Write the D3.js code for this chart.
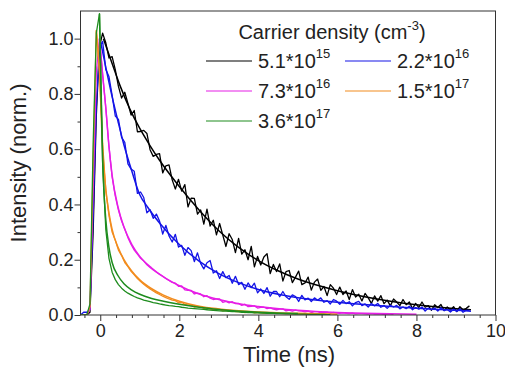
<!DOCTYPE html>
<html>
<head>
<meta charset="utf-8">
<script src="https://cdn.jsdelivr.net/npm/d3@7"></script>
<style>
  html, body { margin: 0; padding: 0; background: #fff; }
  svg { display: block; font-family: Arial, "Liberation Sans", sans-serif; }
</style>
</head>
<body>
<svg id="chart" width="505" height="370"></svg>
<script>
// time grid of the measured traces (ns): t = T0 + i*DT
const T0 = -0.5, DT = 0.08;

const blackData = [
  0.00, 0.00, 0.00, 0.01, 0.30, 0.72, 0.97, 1.02, 0.985, 0.93,
  0.935, 0.888, 0.827, 0.785, 0.806, 0.766, 0.723, 0.74, 0.663, 0.664,
  0.668, 0.657, 0.598, 0.574, 0.581, 0.584, 0.514, 0.54, 0.543, 0.489,
  0.456, 0.491, 0.448, 0.472, 0.391, 0.423, 0.422, 0.365, 0.38, 0.329,
  0.383, 0.322, 0.343, 0.29, 0.331, 0.289, 0.248, 0.294, 0.273, 0.226,
  0.277, 0.22, 0.236, 0.20, 0.248, 0.174, 0.212, 0.181, 0.21, 0.222,
  0.15, 0.183, 0.157, 0.185, 0.123, 0.157, 0.161, 0.117, 0.137, 0.159,
  0.11, 0.116, 0.137, 0.09, 0.119, 0.13, 0.089, 0.103, 0.07, 0.11,
  0.097, 0.074, 0.101, 0.074, 0.087, 0.056, 0.092, 0.065, 0.075, 0.051,
  0.078, 0.062, 0.042, 0.069, 0.05, 0.07, 0.041, 0.054, 0.033, 0.058,
  0.047, 0.034, 0.056, 0.037, 0.047, 0.023, 0.042, 0.027, 0.047, 0.028,
  0.034, 0.017, 0.037, 0.027, 0.038, 0.016, 0.029, 0.018, 0.03, 0.012,
  0.03, 0.018, 0.024, 0.033
];
const blueData = [
  0.00, 0.01, 0.01, 0.02, 0.35, 0.75, 0.97, 0.99, 0.888, 0.863,
  0.795, 0.72, 0.708, 0.643, 0.625, 0.547, 0.528, 0.52, 0.44, 0.445,
  0.425, 0.37, 0.381, 0.35, 0.365, 0.34, 0.293, 0.324, 0.286, 0.264,
  0.292, 0.246, 0.252, 0.216, 0.244, 0.233, 0.193, 0.225, 0.187, 0.167,
  0.189, 0.197, 0.152, 0.16, 0.132, 0.157, 0.135, 0.143, 0.115, 0.14,
  0.11, 0.118, 0.093, 0.116, 0.099, 0.115, 0.08, 0.094, 0.078, 0.099,
  0.068, 0.085, 0.085, 0.066, 0.085, 0.066, 0.057, 0.073, 0.067, 0.049,
  0.071, 0.055, 0.061, 0.049, 0.062, 0.053, 0.062, 0.046, 0.052, 0.04,
  0.056, 0.05, 0.039, 0.053, 0.041, 0.048, 0.033, 0.045, 0.049, 0.034,
  0.04, 0.029, 0.042, 0.033, 0.042, 0.028, 0.034, 0.024, 0.035, 0.029,
  0.035, 0.022, 0.029, 0.023, 0.032, 0.019, 0.027, 0.021, 0.029, 0.014,
  0.025, 0.019, 0.025, 0.014, 0.026, 0.016, 0.02, 0.011, 0.021, 0.013,
  0.022, 0.01, 0.017, 0.017
];
const pinkData = [
  0.00, 0.00, 0.00, 0.02, 0.45, 0.88, 1.00, 0.87, 0.75, 0.61,
  0.50, 0.43, 0.38, 0.34, 0.31, 0.28, 0.255, 0.235, 0.22, 0.205,
  0.195, 0.182, 0.172, 0.163, 0.155, 0.147, 0.14, 0.132, 0.125, 0.118,
  0.115, 0.104, 0.105, 0.091, 0.089, 0.089, 0.076, 0.079, 0.076, 0.066,
  0.07, 0.061, 0.056, 0.058, 0.058, 0.046, 0.049, 0.044, 0.048, 0.041,
  0.042, 0.035, 0.039, 0.03, 0.031, 0.033, 0.025, 0.028, 0.028, 0.023,
  0.026, 0.021, 0.019, 0.021, 0.022, 0.015, 0.018, 0.014, 0.018, 0.015,
  0.014, 0.011, 0.014, 0.009, 0.012, 0.012, 0.008, 0.01, 0.01, 0.006,
  0.009, 0.007, 0.006, 0.008, 0.006, 0.005, 0.007, 0.004, 0.005, 0.005,
  0.004, 0.003, 0.005, 0.003, 0.004, 0.003, 0.002, 0.003, 0.003, 0.002
];
const orangeData = [
  0.00, 0.00, 0.00, 0.03, 0.55, 1.03, 0.88, 0.62, 0.45, 0.36,
  0.30, 0.27, 0.235, 0.215, 0.19, 0.175, 0.158, 0.145, 0.132, 0.121,
  0.111, 0.102, 0.094, 0.087, 0.08, 0.074, 0.068, 0.063, 0.058, 0.054,
  0.052, 0.044, 0.046, 0.038, 0.036, 0.036, 0.029, 0.031, 0.03, 0.024,
  0.026, 0.021, 0.019, 0.022, 0.02, 0.015, 0.017, 0.014, 0.016, 0.012,
  0.013, 0.011, 0.009, 0.011, 0.012, 0.008, 0.009, 0.009, 0.006, 0.007,
  0.007, 0.006, 0.006, 0.006, 0.005, 0.005, 0.005, 0.004, 0.004, 0.004,
  0.003, 0.003, 0.003, 0.003, 0.002, 0.002, 0.002, 0.002, 0.002, 0.002
];
const greenData = [
  0.00, 0.00, 0.00, 0.04, 0.62, 1.02, 1.09, 0.55, 0.31, 0.205,
  0.155, 0.128, 0.11, 0.097, 0.087, 0.079, 0.073, 0.067, 0.062, 0.058,
  0.054, 0.051, 0.048, 0.045, 0.043, 0.04, 0.038, 0.036, 0.034, 0.033,
  0.031, 0.03, 0.028, 0.027, 0.025, 0.024, 0.023, 0.022, 0.021, 0.02,
  0.019, 0.018, 0.017, 0.016, 0.015, 0.014, 0.014, 0.013, 0.012, 0.012,
  0.011, 0.01, 0.01, 0.009, 0.009, 0.008, 0.008, 0.007, 0.007, 0.006,
  0.006, 0.006, 0.005, 0.005, 0.005, 0.004, 0.004, 0.004, 0.003, 0.003,
  0.003, 0.003, 0.002, 0.002, 0.002, 0.002, 0.002, 0.002, 0.001, 0.001
];

// fitted curves, [time (ns), intensity]
const blackFit = [[0.08,1.0],[0.3,0.91],[0.5,0.83],[0.75,0.745],[1.0,0.675],[1.25,0.615],[1.5,0.56],[2.0,0.465],[2.5,0.38],[3.0,0.305],[3.5,0.245],[4.0,0.197],[4.5,0.16],[5.0,0.13],[6.0,0.088],[7.0,0.058],[8.0,0.037],[9.0,0.023],[9.38,0.019]];
const blueFit = [[0.02,0.98],[0.15,0.89],[0.3,0.79],[0.45,0.7],[0.6,0.615],[0.8,0.52],[1.0,0.435],[1.2,0.39],[1.5,0.333],[2.0,0.255],[2.5,0.195],[3.0,0.15],[3.5,0.117],[4.0,0.092],[4.5,0.075],[5.0,0.062],[6.0,0.046],[7.0,0.034],[8.0,0.024],[9.38,0.014]];
const pinkFit = [[-0.02,1.0],[0.06,0.87],[0.14,0.75],[0.22,0.61],[0.3,0.505],[0.45,0.39],[0.6,0.318],[0.8,0.255],[1.0,0.212],[1.3,0.17],[1.6,0.138],[2.0,0.106],[2.5,0.076],[3.0,0.056],[3.5,0.041],[4.0,0.031],[5.0,0.017],[6.0,0.009],[7.0,0.005],[8.0,0.003]];
const orangeFit = [[-0.1,1.03],[-0.02,0.88],[0.06,0.6],[0.14,0.455],[0.22,0.37],[0.3,0.31],[0.45,0.245],[0.6,0.2],[0.8,0.158],[1.0,0.127],[1.3,0.095],[1.6,0.072],[2.0,0.05],[2.5,0.032],[3.0,0.022],[4.0,0.011],[5.0,0.006],[6.0,0.003]];
const greenFit = [[-0.02,1.09],[0.06,0.56],[0.14,0.345],[0.22,0.245],[0.3,0.19],[0.45,0.142],[0.6,0.113],[0.8,0.09],[1.0,0.075],[1.3,0.06],[1.6,0.05],[2.0,0.039],[2.5,0.028],[3.0,0.02],[4.0,0.01],[5.0,0.005]];

// legend: carrier density = mantissa * 10^exp (cm^-3)
const densityMantissa = ["5.1", "2.2", "7.3", "1.5", "3.6"];
const densityExp = ["15", "16", "16", "17", "17"];
const seriesColors = ["#000000", "#1414e6", "#e61ee6", "#f28c1e", "#1e8c1e"];

const xTicks = [0, 2, 4, 6, 8, 10];
const yTicks = [0.0, 0.2, 0.4, 0.6, 0.8, 1.0];

const series = [
  { data: blackData, fit: blackFit },
  { data: blueData, fit: blueFit },
  { data: pinkData, fit: pinkFit },
  { data: orangeData, fit: orangeFit },
  { data: greenData, fit: greenFit }
].map((s, i) => ({ ...s, color: seriesColors[i], mant: densityMantissa[i], exp: densityExp[i] }));

const svg = d3.select("#chart");
const PLOT = { left: 80.5, right: 495.5, top: 11, bottom: 315 };

const x = d3.scaleLinear().domain([-0.5, 10]).range([PLOT.left, PLOT.right]);
const y = d3.scaleLinear().domain([0, 1.1]).range([PLOT.bottom, PLOT.top]);

const axisColor = "#333";
const tickFont = 18;

// minor ticks: every 0.4 ns on x, every 0.1 on y
const xMinor = d3.range(-1, 26).map(k => +(k * 0.4).toFixed(2))
  .filter(v => v >= -0.45 && v <= 10 && !xTicks.includes(v));
const yMinor = [0.1, 0.3, 0.5, 0.7, 0.9];

svg.append("g")
  .attr("transform", `translate(0,${PLOT.bottom})`)
  .call(d3.axisBottom(x).tickValues(xMinor).tickSize(3).tickFormat(""))
  .call(g => g.select(".domain").remove())
  .call(g => g.selectAll("line").attr("stroke", axisColor));

svg.append("g")
  .attr("transform", `translate(0,${PLOT.bottom})`)
  .call(d3.axisBottom(x).tickValues(xTicks).tickSize(6).tickPadding(3).tickFormat(d3.format("d")))
  .call(g => g.select(".domain").remove())
  .call(g => g.selectAll("line").attr("stroke", axisColor))
  .call(g => g.selectAll("text").attr("fill", "#222").style("font-size", tickFont + "px").style("font-family", "Arial, 'Liberation Sans', sans-serif"));

svg.append("g")
  .attr("transform", `translate(${PLOT.left},0)`)
  .call(d3.axisLeft(y).tickValues(yMinor).tickSize(3).tickFormat(""))
  .call(g => g.select(".domain").remove())
  .call(g => g.selectAll("line").attr("stroke", axisColor));

svg.append("g")
  .attr("transform", `translate(${PLOT.left},0)`)
  .call(d3.axisLeft(y).tickValues(yTicks).tickSize(6).tickPadding(1).tickFormat(d3.format(".1f")))
  .call(g => g.select(".domain").remove())
  .call(g => g.selectAll("line").attr("stroke", axisColor))
  .call(g => g.selectAll("text").attr("fill", "#222").style("font-size", tickFont + "px").style("font-family", "Arial, 'Liberation Sans', sans-serif"));

// curves
svg.append("defs").append("clipPath").attr("id", "clip")
  .append("rect")
  .attr("x", PLOT.left).attr("y", PLOT.top)
  .attr("width", PLOT.right - PLOT.left).attr("height", PLOT.bottom - PLOT.top);

const dataLine = d3.line()
  .x((d, i) => x(T0 + i * DT))
  .y(d => y(d));
const fitLine = d3.line()
  .curve(d3.curveMonotoneX)
  .x(d => x(d[0]))
  .y(d => y(d[1]));

const curves = svg.append("g").attr("clip-path", "url(#clip)");
series.forEach(s => {
  curves.append("path")
    .attr("d", dataLine(s.data))
    .attr("fill", "none")
    .attr("stroke", s.color)
    .attr("stroke-width", 1.3)
    .attr("stroke-linejoin", "round");
  curves.append("path")
    .attr("d", fitLine(s.fit))
    .attr("fill", "none")
    .attr("stroke", s.color)
    .attr("stroke-width", 1.5);
});

// frame
svg.append("rect")
  .attr("x", PLOT.left).attr("y", PLOT.top)
  .attr("width", PLOT.right - PLOT.left).attr("height", PLOT.bottom - PLOT.top)
  .attr("fill", "none").attr("stroke", axisColor).attr("stroke-width", 1);

// axis titles
svg.append("text")
  .attr("x", (PLOT.left + PLOT.right) / 2 + 1).attr("y", 362)
  .attr("text-anchor", "middle")
  .attr("fill", "#222")
  .style("font-size", "22px")
  .text("Time (ns)");

svg.append("text")
  .attr("transform", `translate(26,${(PLOT.top + PLOT.bottom) / 2}) rotate(-90)`)
  .attr("text-anchor", "middle")
  .attr("fill", "#222")
  .style("font-size", "22px")
  .text("Intensity (norm.)");

// legend
const legend = svg.append("g");
const title = legend.append("text")
  .attr("x", 332).attr("y", 39)
  .attr("text-anchor", "middle")
  .attr("fill", "#222")
  .style("font-size", "20px");
title.append("tspan").text("Carrier density (cm");
title.append("tspan").attr("dy", -9).style("font-size", "13px").text("-3");
title.append("tspan").attr("dy", 9).text(")");

const colX = [206, 345], rowY = [61, 91, 121];
series.forEach((s, i) => {
  const cx = colX[i % 2], cy = rowY[Math.floor(i / 2)];
  legend.append("line")
    .attr("x1", cx).attr("x2", cx + 46)
    .attr("y1", cy).attr("y2", cy)
    .attr("stroke", s.color).attr("stroke-width", 1.2);
  const t = legend.append("text")
    .attr("x", cx + 52).attr("y", cy + 7)
    .attr("fill", "#222")
    .style("font-size", "20px");
  t.append("tspan").text(s.mant + "*10");
  t.append("tspan").attr("dy", -10).style("font-size", "13px").text(s.exp);
});
</script>
</body>
</html>
